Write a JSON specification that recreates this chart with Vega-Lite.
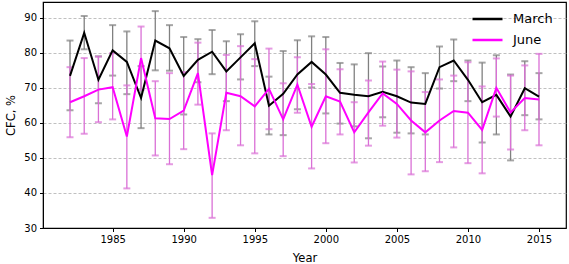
{
  "$schema": "https://vega.github.io/schema/vega-lite/v6.json",
  "width": 523,
  "height": 226,
  "autosize": "none",
  "padding": {"left": 43, "top": 2, "right": 3, "bottom": 36},
  "background": "white",
  "config": {
    "font": "DejaVu Sans",
    "view": {"stroke": "black", "strokeWidth": 1.2},
    "axis": {
      "domainColor": "black",
      "tickColor": "black",
      "labelColor": "black",
      "titleColor": "black",
      "labelFontSize": 10,
      "titleFontSize": 11.5,
      "titleFontWeight": "normal",
      "tickSize": 3.5,
      "labelPadding": 3,
      "labelOverlap": false
    },
    "axisY": {
      "values": [30, 40, 50, 60, 70, 80, 90],
      "grid": true,
      "gridColor": "#b0b0b0",
      "gridDash": [3, 2],
      "gridWidth": 0.8,
      "titlePadding": 7
    }
  },
  "data": {
    "values": [
      {"year": 1982, "series": "March", "mean": 73.4, "lo": 63.6, "hi": 83.5},
      {"year": 1983, "series": "March", "mean": 85.7, "lo": 81.0, "hi": 90.5},
      {"year": 1984, "series": "March", "mean": 72.3, "lo": 65.6, "hi": 79.0},
      {"year": 1985, "series": "March", "mean": 80.7, "lo": 73.5, "hi": 87.9},
      {"year": 1986, "series": "March", "mean": 77.4, "lo": 68.2, "hi": 86.1},
      {"year": 1987, "series": "March", "mean": 67.1, "lo": 58.5, "hi": 76.2},
      {"year": 1988, "series": "March", "mean": 83.5, "lo": 75.0, "hi": 91.9},
      {"year": 1989, "series": "March", "mean": 81.3, "lo": 74.9, "hi": 87.9},
      {"year": 1990, "series": "March", "mean": 73.4, "lo": 62.4, "hi": 84.5},
      {"year": 1991, "series": "March", "mean": 78.0, "lo": 71.6, "hi": 83.9},
      {"year": 1992, "series": "March", "mean": 80.3, "lo": 73.9, "hi": 86.5},
      {"year": 1993, "series": "March", "mean": 74.7, "lo": 66.2, "hi": 83.3},
      {"year": 1994, "series": "March", "mean": 78.7, "lo": 72.4, "hi": 85.3},
      {"year": 1995, "series": "March", "mean": 82.7, "lo": 76.2, "hi": 89.0},
      {"year": 1996, "series": "March", "mean": 64.9, "lo": 56.7, "hi": 73.2},
      {"year": 1997, "series": "March", "mean": 68.3, "lo": 56.5, "hi": 80.5},
      {"year": 1998, "series": "March", "mean": 73.8, "lo": 63.9, "hi": 83.6},
      {"year": 1999, "series": "March", "mean": 77.4, "lo": 70.1, "hi": 84.7},
      {"year": 2000, "series": "March", "mean": 73.8, "lo": 62.7, "hi": 84.5},
      {"year": 2001, "series": "March", "mean": 68.6, "lo": 59.8, "hi": 77.1},
      {"year": 2002, "series": "March", "mean": 68.0, "lo": 59.0, "hi": 76.7},
      {"year": 2003, "series": "March", "mean": 67.6, "lo": 55.6, "hi": 79.9},
      {"year": 2004, "series": "March", "mean": 68.9, "lo": 61.6, "hi": 76.1},
      {"year": 2005, "series": "March", "mean": 67.6, "lo": 57.2, "hi": 77.8},
      {"year": 2006, "series": "March", "mean": 65.8, "lo": 57.0, "hi": 75.9},
      {"year": 2007, "series": "March", "mean": 65.4, "lo": 56.7, "hi": 74.2},
      {"year": 2008, "series": "March", "mean": 75.9, "lo": 69.8, "hi": 81.8},
      {"year": 2009, "series": "March", "mean": 77.8, "lo": 71.9, "hi": 83.8},
      {"year": 2010, "series": "March", "mean": 72.3, "lo": 66.2, "hi": 77.8},
      {"year": 2011, "series": "March", "mean": 65.9, "lo": 54.4, "hi": 77.2},
      {"year": 2012, "series": "March", "mean": 68.0, "lo": 56.7, "hi": 79.3},
      {"year": 2013, "series": "March", "mean": 61.8, "lo": 49.3, "hi": 73.8},
      {"year": 2014, "series": "March", "mean": 69.9, "lo": 62.2, "hi": 77.6},
      {"year": 2015, "series": "March", "mean": 67.5, "lo": 61.0, "hi": 74.2},
      {"year": 1982, "series": "June", "mean": 65.9, "lo": 55.9, "hi": 75.9},
      {"year": 1983, "series": "June", "mean": 67.6, "lo": 56.9, "hi": 78.5},
      {"year": 1984, "series": "June", "mean": 69.5, "lo": 60.2, "hi": 78.9},
      {"year": 1985, "series": "June", "mean": 70.2, "lo": 61.0, "hi": 79.9},
      {"year": 1986, "series": "June", "mean": 56.1, "lo": 41.3, "hi": 70.7},
      {"year": 1987, "series": "June", "mean": 78.5, "lo": 69.4, "hi": 87.5},
      {"year": 1988, "series": "June", "mean": 61.3, "lo": 50.7, "hi": 71.9},
      {"year": 1989, "series": "June", "mean": 61.1, "lo": 48.2, "hi": 74.2},
      {"year": 1990, "series": "June", "mean": 63.5, "lo": 52.5, "hi": 74.5},
      {"year": 1991, "series": "June", "mean": 74.2, "lo": 65.2, "hi": 82.9},
      {"year": 1992, "series": "June", "mean": 45.1, "lo": 32.9, "hi": 57.0},
      {"year": 1993, "series": "June", "mean": 68.6, "lo": 57.9, "hi": 79.4},
      {"year": 1994, "series": "June", "mean": 67.6, "lo": 53.6, "hi": 81.9},
      {"year": 1995, "series": "June", "mean": 64.7, "lo": 51.3, "hi": 78.2},
      {"year": 1996, "series": "June", "mean": 69.7, "lo": 58.2, "hi": 81.2},
      {"year": 1997, "series": "June", "mean": 61.0, "lo": 50.5, "hi": 71.3},
      {"year": 1998, "series": "June", "mean": 70.9, "lo": 62.9, "hi": 78.7},
      {"year": 1999, "series": "June", "mean": 58.9, "lo": 47.0, "hi": 71.1},
      {"year": 2000, "series": "June", "mean": 67.6, "lo": 54.2, "hi": 81.0},
      {"year": 2001, "series": "June", "mean": 66.1, "lo": 56.7, "hi": 75.3},
      {"year": 2002, "series": "June", "mean": 57.3, "lo": 48.7, "hi": 65.9},
      {"year": 2003, "series": "June", "mean": 63.0, "lo": 53.5, "hi": 72.1},
      {"year": 2004, "series": "June", "mean": 68.4, "lo": 59.2, "hi": 77.5},
      {"year": 2005, "series": "June", "mean": 65.4, "lo": 55.8, "hi": 75.2},
      {"year": 2006, "series": "June", "mean": 60.7, "lo": 45.3, "hi": 74.7},
      {"year": 2007, "series": "June", "mean": 57.3, "lo": 46.2, "hi": 68.8},
      {"year": 2008, "series": "June", "mean": 60.7, "lo": 48.8, "hi": 72.4},
      {"year": 2009, "series": "June", "mean": 63.4, "lo": 53.0, "hi": 73.5},
      {"year": 2010, "series": "June", "mean": 62.9, "lo": 48.5, "hi": 77.3},
      {"year": 2011, "series": "June", "mean": 58.0, "lo": 45.6, "hi": 70.4},
      {"year": 2012, "series": "June", "mean": 70.0, "lo": 61.8, "hi": 78.4},
      {"year": 2013, "series": "June", "mean": 63.0, "lo": 52.4, "hi": 73.5},
      {"year": 2014, "series": "June", "mean": 67.1, "lo": 57.9, "hi": 76.4},
      {"year": 2015, "series": "June", "mean": 66.7, "lo": 53.6, "hi": 79.7}
    ]
  },
  "encoding": {
    "x": {
      "field": "year",
      "type": "quantitative",
      "scale": {"domain": [1980.1, 2016.9], "nice": false, "zero": false},
      "axis": {"values": [1985, 1990, 1995, 2000, 2005, 2010, 2015], "format": "d", "grid": false, "title": "Year", "titlePadding": 8}
    }
  },
  "layer": [
    {
      "transform": [{"filter": "datum.series === 'March'"}],
      "mark": {"type": "rule", "color": "#808080", "strokeWidth": 1.3},
      "encoding": {
        "y": {"field": "lo", "type": "quantitative", "scale": {"domain": [30, 94.5], "nice": false, "zero": false},
          "axis": {"title": "CFC, %"}},
        "y2": {"field": "hi"}
      }
    },
    {
      "transform": [{"filter": "datum.series === 'March'"}],
      "mark": {"type": "tick", "color": "#808080", "orient": "horizontal", "size": 7, "thickness": 2},
      "encoding": {"y": {"field": "lo", "type": "quantitative", "axis": {"title": "CFC, %"}}}
    },
    {
      "transform": [{"filter": "datum.series === 'March'"}],
      "mark": {"type": "tick", "color": "#808080", "orient": "horizontal", "size": 7, "thickness": 2},
      "encoding": {"y": {"field": "hi", "type": "quantitative", "axis": {"title": "CFC, %"}}}
    },
    {
      "transform": [{"filter": "datum.series === 'June'"}],
      "mark": {"type": "rule", "color": "#da70d6", "strokeWidth": 1.3},
      "encoding": {"y": {"field": "lo", "type": "quantitative", "axis": {"title": "CFC, %"}}, "y2": {"field": "hi"}}
    },
    {
      "transform": [{"filter": "datum.series === 'June'"}],
      "mark": {"type": "tick", "color": "#da70d6", "orient": "horizontal", "size": 7, "thickness": 2},
      "encoding": {"y": {"field": "lo", "type": "quantitative", "axis": {"title": "CFC, %"}}}
    },
    {
      "transform": [{"filter": "datum.series === 'June'"}],
      "mark": {"type": "tick", "color": "#da70d6", "orient": "horizontal", "size": 7, "thickness": 2},
      "encoding": {"y": {"field": "hi", "type": "quantitative", "axis": {"title": "CFC, %"}}}
    },
    {
      "mark": {"type": "line", "strokeWidth": 2},
      "encoding": {
        "y": {"field": "mean", "type": "quantitative", "axis": {"title": "CFC, %"}},
        "color": {
          "field": "series",
          "type": "nominal",
          "sort": ["March", "June"],
          "scale": {"domain": ["March", "June"], "range": ["black", "#ff00ff"]},
          "legend": {
            "title": null,
            "orient": "none",
            "legendX": 428,
            "legendY": 9,
            "symbolType": "stroke",
            "symbolSize": 900,
            "symbolStrokeWidth": 2.5,
            "labelFontSize": 13,
            "labelOffset": 9,
            "clipHeight": 16,
            "rowPadding": 5,
            "padding": 0
          }
        },
        "order": {"field": "year", "type": "quantitative"}
      }
    }
  ]
}
